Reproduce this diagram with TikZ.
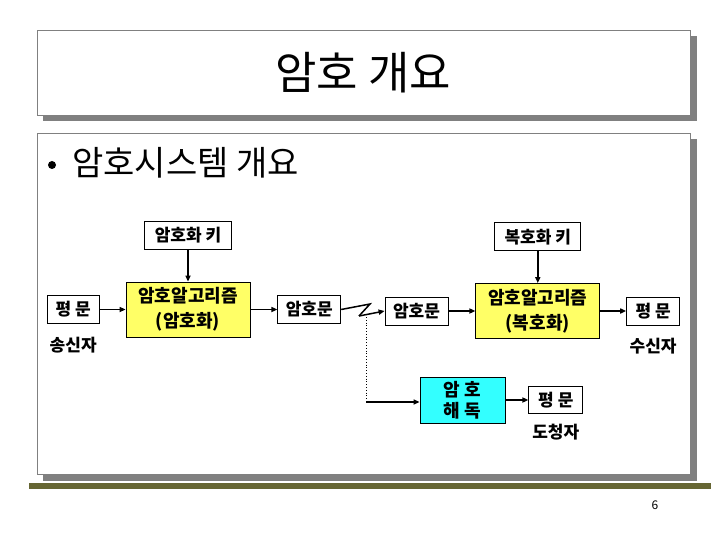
\documentclass[tikz,border=0pt]{standalone}
\usepackage{fontspec}
\usepackage{xcolor}
\usepackage{tikz}
\usetikzlibrary{arrows.meta,positioning}
\newfontfamily\kr{Noto Sans CJK KR}
\definecolor{framegray}{HTML}{808080}
\definecolor{barolive}{HTML}{666633}
\definecolor{algoyellow}{HTML}{FFFF66}
\definecolor{crackcyan}{HTML}{33FFFF}

\begin{document}
\begin{tikzpicture}[
  x=1pt, y=-1pt,
  plain/.style={draw, fill=white, line width=0.8pt, align=center, minimum height=28pt, inner sep=1pt, font=\kr\bfseries\fontsize{17}{19}\selectfont},
  algo/.style={draw, fill=algoyellow, line width=0.8pt, align=center, minimum width=124pt, minimum height=55pt, inner sep=1pt, font=\kr\bfseries\fontsize{18}{25}\selectfont},
  crack/.style={draw, fill=crackcyan, line width=0.8pt, align=center, minimum width=85pt, minimum height=46pt, inner sep=1pt, font=\kr\bfseries\fontsize{18}{21}\selectfont},
  who/.style={inner sep=0pt, font=\kr\bfseries\fontsize{17}{19}\selectfont},
  edge/.style={-{Triangle[length=6pt,width=5pt]}, line width=1.8pt},
  frame/.style={draw=framegray, fill=white, line width=0.8pt}
]
\useasboundingbox (0,0) rectangle (720,540);
% slide frames
\fill[framegray] (43,36) rectangle (697,121);
\draw[frame] (37,30) rectangle (690,115);
\fill[framegray] (43,139) rectangle (697,481);
\draw[frame] (37,133) rectangle (690,474);
\fill[barolive] (29,483) rectangle (711,489);
\node[font=\kr\fontsize{45}{48}\selectfont] (title) at (363,73) {암호 개요};
\fill (52,165) circle (4pt) coordinate (bullet);
\node[anchor=west, inner sep=0pt, font=\kr\fontsize{34}{36}\selectfont] (topic) at (72,163) {암호시스템 개요};
\node[font=\kr\fontsize{12}{14}\selectfont] (page) at (655,505) {6};

% sender side
\node[algo] (enc) at (188,309.5) {암호알고리즘\\(암호화)};
\node[plain, minimum width=87pt, above=32pt of enc] (enckey) {암호화 키};
\node[plain, minimum width=52pt, left=26pt of enc] (ptL) {평 문};
\node[plain, minimum width=63pt, right=27pt of enc] (ctL) {암호문};
\node[who, below=13pt of ptL] (sender) {송신자};

% receiver side
\node[plain, minimum width=63pt] (ctR) at (416.5,311) {암호문};
\node[algo, right=27pt of ctR] (dec) {암호알고리즘\\(복호화)};
\node[plain, minimum width=86pt, above=32pt of dec] (deckey) {복호화 키};
\node[plain, minimum width=53pt, right=26pt of dec] (ptR) {평 문};
\node[who, below=13pt of ptR] (receiver) {수신자};

% eavesdropper
\node[crack] (attack) at (462.5,400) {암 호\\해 독};
\node[plain, minimum width=54pt, minimum height=27pt, right=23pt of attack] (ptE) {평 문};
\node[who, below=10pt of ptE] (eve) {도청자};

% channel zigzag
\coordinate (zA) at (370,304);
\coordinate (zB) at (359,316);
\coordinate (tap) at (366,317);
\coordinate (tapDown) at (366,402);

\draw[edge] (enckey) -- (enc);
\draw[edge] (deckey) -- (dec);
\draw[edge] (ptL) -- (enc);
\draw[edge] (enc) -- (ctL);
\draw[edge] (ctR) -- (dec);
\draw[edge] (dec) -- (ptR);
\draw[line width=1.5pt] (ctL.east) -- (zA) -- (zB);
\draw[edge, line width=1.5pt] (zB) -- (ctR.west);
\draw[dotted, line width=0.8pt] (tap) -- (tapDown);
\draw[edge] (tapDown) -- (attack.west |- tapDown);
\draw[edge] (attack) -- (ptE);
\end{tikzpicture}
\end{document}
